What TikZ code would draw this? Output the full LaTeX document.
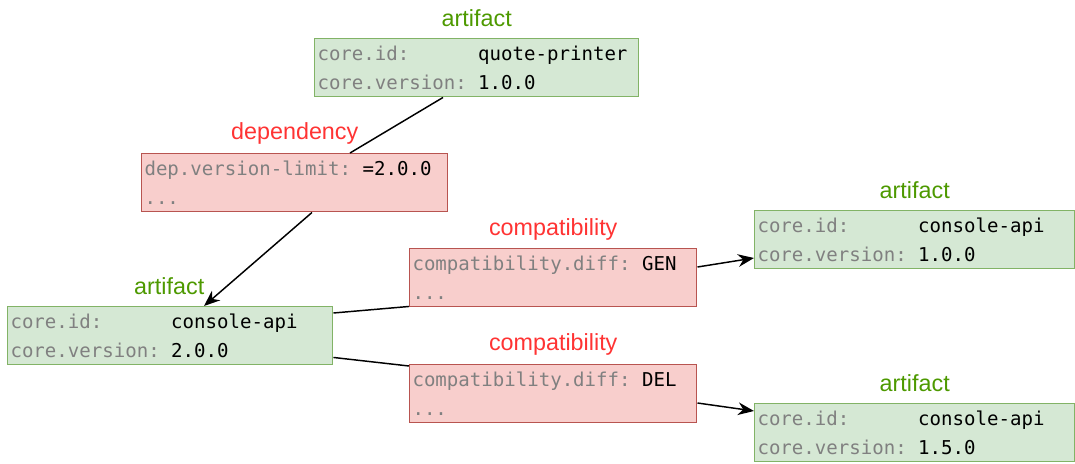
\documentclass[tikz,border=0pt]{standalone}
\usepackage{fontspec}
\setmainfont{Liberation Sans}
\newfontfamily\mono{DejaVu Sans Mono}
\usetikzlibrary{arrows.meta,calc}
\definecolor{artfill}{HTML}{D5E8D4}
\definecolor{artline}{HTML}{82B366}
\definecolor{relfill}{HTML}{F8CECC}
\definecolor{relline}{HTML}{B85450}
\definecolor{arttext}{HTML}{4D9900}
\definecolor{reltext}{HTML}{FF3333}
\definecolor{keygray}{HTML}{808080}
% grey field name, followed by a fixed-width gap of #2 character cells
\newcommand{\key}[2]{\textcolor{keygray}{#1}\hphantom{#2}}
\tikzset{
  card/.style={rectangle, anchor=north west, line width=1.1pt, inner xsep=1.5pt, inner ysep=0pt,
    align=left, font=\mono\fontsize{14.3}{21.75}\selectfont,
    minimum height=43.5pt},
  cardw/.style={minimum width={#1*0.75pt}, text width={#1*0.75pt-4.2pt}},
  artbox/.style={card, draw=artline, fill=artfill},
  relbox/.style={card, draw=relline, fill=relfill},
  artlabel/.style={font=\fontsize{17.5}{19}\selectfont, text=arttext},
  rellabel/.style={font=\fontsize{17.5}{19}\selectfont, text=reltext},
  link/.style={line width=1.1pt, black},
  flow/.style={link, -{Stealth[length=12pt,width=9.5pt]}}
}
\begin{document}
\begin{tikzpicture}[x=0.75pt,y=-0.75pt]
\useasboundingbox (0,0) rectangle (1075,464);

% artifact cards
\node[artbox, cardw=324] (qp) at (314,38)
  {\key{core.id:}{000000}quote-printer\\\key{core.version:}{0}1.0.0};
\node[artbox, cardw=325] (api2) at (7,306)
  {\key{core.id:}{000000}console-api\\\key{core.version:}{0}2.0.0};
\node[artbox, cardw=320] (api1) at (754,210)
  {\key{core.id:}{000000}console-api\\\key{core.version:}{0}1.0.0};
\node[artbox, cardw=320] (api15) at (754,403)
  {\key{core.id:}{000000}console-api\\\key{core.version:}{0}1.5.0};

% relation cards
\node[relbox, cardw=306] (dep) at (141,153)
  {\key{dep.version-limit:}{0}=2.0.0\\\key{...}{}};
\node[relbox, cardw=287] (gen) at (409,248)
  {\key{compatibility.diff:}{0}GEN\\\key{...}{}};
\node[relbox, cardw=287] (del) at (409,364)
  {\key{compatibility.diff:}{0}DEL\\\key{...}{}};

% captions
\node[artlabel] (qpcap) at ($(qp.north)+(0,-20)$) {artifact};
\node[artlabel] (api2cap) at ($(api2.north)+(-1,-20)$) {artifact};
\node[artlabel] (api1cap) at ($(api1.north)+(0,-20)$) {artifact};
\node[artlabel] (api15cap) at ($(api15.north)+(0,-20)$) {artifact};
\node[rellabel] (depcap) at ($(dep.north)+(0,-20)$) {dependency};
\node[rellabel] (gencap) at ($(gen.north)+(0,-19)$) {compatibility};
\node[rellabel] (delcap) at ($(del.north)+(0,-20)$) {compatibility};

% connectors
\draw[link] ($(qp.south west)+(129,0)$) -- ($(dep.north west)+(209,0)$);
\draw[flow] ($(dep.south west)+(171,0)$) -- ($(api2.north west)+(197,0)$);
\draw[link] ($(api2.north east)+(0,7)$) -- ($(gen.south west)+(0,-1)$);
\draw[flow] ($(gen.north east)+(0,19)$) -- ($(api1.north west)+(0,48)$);
\draw[link] ($(api2.south east)+(0,-8)$) -- ($(del.north west)+(0,2)$);
\draw[flow] ($(del.north east)+(0,39)$) -- ($(api15.north west)+(0,8)$);
\end{tikzpicture}
\end{document}
